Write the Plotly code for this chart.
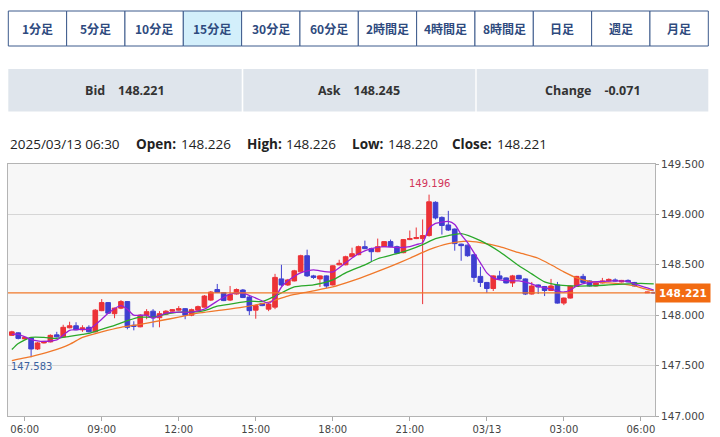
import pandas as pd
import plotly.graph_objects as go

# ---------------- data ----------------
buttons = ["1分足", "5分足", "10分足", "15分足", "30分足", "60分足",
           "2時間足", "4時間足", "8時間足", "日足", "週足", "月足"]
active_button = "15分足"
bid, ask, change = "148.221", "148.245", "-0.071"
last_time = "2025/03/13 06:30"
last_open, last_high, last_low, last_close = "148.226", "148.226", "148.220", "148.221"
current_price = 148.221
high_label, low_label = 149.196, 147.583

opens = [147.800, 147.825, 147.765, 147.775, 147.665, 147.725, 147.735, 147.805, 147.785, 147.875,
         147.895, 147.855, 147.880, 147.835, 148.045, 148.125, 148.015, 148.070, 148.135, 147.900,
         147.885, 148.000, 148.040, 147.975, 148.010, 148.040, 148.050, 148.065, 148.000, 148.050,
         148.080, 148.150, 148.255, 148.225, 148.150, 148.210, 148.250, 148.180, 148.050, 148.115,
         148.060, 148.080, 148.360, 148.300, 148.340, 148.430, 148.590, 148.390, 148.360, 148.390,
         148.300, 148.500, 148.500, 148.580, 148.600, 148.680, 148.660, 148.630, 148.680, 148.730,
         148.680, 148.620, 148.750, 148.760, 148.760, 148.790, 149.120, 148.970, 148.895, 148.855,
         148.705, 148.695, 148.600, 148.385, 148.325, 148.265, 148.390, 148.370, 148.320, 148.395,
         148.360, 148.210, 148.300, 148.285, 148.245, 148.300, 148.120, 148.170, 148.285, 148.385,
         148.340, 148.290, 148.320, 148.340, 148.350, 148.330, 148.345, 148.325, 148.222, 148.226]
highs = [147.845, 147.830, 147.790, 147.780, 147.735, 147.745, 147.810, 147.835, 147.905, 147.935,
         147.930, 147.900, 147.900, 148.060, 148.160, 148.130, 148.075, 148.150, 148.140, 147.940,
         148.010, 148.060, 148.060, 148.040, 148.050, 148.060, 148.090, 148.070, 148.065, 148.095,
         148.200, 148.240, 148.310, 148.230, 148.290, 148.265, 148.260, 148.190, 148.100, 148.120,
         148.120, 148.410, 148.500, 148.360, 148.450, 148.600, 148.650, 148.400, 148.395, 148.395,
         148.495, 148.550, 148.590, 148.670, 148.690, 148.740, 148.670, 148.760, 148.735, 148.750,
         148.690, 148.755, 148.840, 148.870, 148.950, 149.196, 149.130, 148.980, 149.035, 148.860,
         148.710, 148.700, 148.610, 148.480, 148.330, 148.395, 148.440, 148.375, 148.400, 148.400,
         148.365, 148.330, 148.305, 148.290, 148.360, 148.330, 148.175, 148.295, 148.390, 148.410,
         148.345, 148.325, 148.370, 148.365, 148.365, 148.350, 148.355, 148.330, 148.232, 148.226]
lows = [147.795, 147.760, 147.760, 147.583, 147.655, 147.720, 147.730, 147.780, 147.780, 147.870,
        147.850, 147.835, 147.830, 147.830, 148.040, 148.015, 147.970, 148.060, 147.860, 147.850,
        147.880, 147.960, 147.880, 147.880, 148.000, 148.035, 148.045, 147.960, 147.990, 148.045,
        148.075, 148.140, 148.220, 148.140, 148.140, 148.205, 148.170, 148.000, 147.965, 148.090,
        148.040, 148.060, 148.290, 148.290, 148.335, 148.425, 148.380, 148.360, 148.280, 148.270,
        148.295, 148.495, 148.495, 148.575, 148.595, 148.655, 148.530, 148.625, 148.675, 148.675,
        148.610, 148.615, 148.745, 148.755, 148.110, 148.780, 148.950, 148.800, 148.835, 148.640,
        148.540, 148.580, 148.330, 148.280, 148.220, 148.240, 148.350, 148.315, 148.280, 148.355,
        148.200, 148.205, 148.210, 148.190, 148.240, 148.115, 148.100, 148.165, 148.280, 148.320,
        148.285, 148.285, 148.315, 148.335, 148.335, 148.325, 148.325, 148.285, 148.220, 148.220]
closes = [147.835, 147.770, 147.780, 147.665, 147.725, 147.740, 147.800, 147.785, 147.880, 147.895,
          147.855, 147.875, 147.835, 148.050, 148.125, 148.020, 148.070, 148.135, 147.880, 147.890,
          148.000, 148.035, 147.975, 148.015, 148.040, 148.055, 148.065, 148.000, 148.055, 148.085,
          148.190, 148.230, 148.225, 148.145, 148.205, 148.255, 148.175, 148.045, 148.095, 148.095,
          148.110, 148.375, 148.300, 148.350, 148.440, 148.590, 148.390, 148.375, 148.390, 148.290,
          148.490, 148.515, 148.580, 148.610, 148.680, 148.660, 148.630, 148.680, 148.730, 148.680,
          148.615, 148.750, 148.760, 148.770, 148.790, 149.125, 148.965, 148.890, 148.845, 148.710,
          148.690, 148.590, 148.375, 148.325, 148.265, 148.390, 148.360, 148.320, 148.390, 148.360,
          148.210, 148.290, 148.280, 148.245, 148.290, 148.120, 148.170, 148.290, 148.385, 148.325,
          148.290, 148.320, 148.340, 148.355, 148.340, 148.345, 148.330, 148.290, 148.229, 148.221]

times = [t for t in pd.date_range("2025-03-12 05:30", "2025-03-13 06:30", freq="15min")
         if t != pd.Timestamp("2025-03-13 06:00")]

ma_short_t = ["03-12 05:30", "03-12 05:45", "03-12 06:15", "03-12 06:30", "03-12 06:45", "03-12 07:15",
              "03-12 07:45", "03-12 08:15", "03-12 08:30", "03-12 09:00", "03-12 09:15", "03-12 09:45",
              "03-12 10:00", "03-12 10:15", "03-12 10:45", "03-12 11:00", "03-12 11:30", "03-12 12:00",
              "03-12 12:30", "03-12 13:00", "03-12 13:30", "03-12 14:00", "03-12 14:30", "03-12 15:00",
              "03-12 15:30", "03-12 15:45", "03-12 16:00", "03-12 16:15", "03-12 16:45", "03-12 17:15",
              "03-12 17:30", "03-12 18:00", "03-12 18:30", "03-12 19:00", "03-12 19:30", "03-12 20:00",
              "03-12 20:30", "03-12 21:00", "03-12 21:15", "03-12 21:30", "03-12 21:45", "03-12 22:00",
              "03-12 22:30", "03-12 22:45", "03-12 23:00", "03-12 23:15", "03-12 23:30", "03-12 23:45",
              "03-13 00:00", "03-13 00:15", "03-13 00:30", "03-13 01:00", "03-13 01:15", "03-13 01:45",
              "03-13 02:00", "03-13 02:30", "03-13 02:45", "03-13 03:00", "03-13 03:15", "03-13 03:30",
              "03-13 04:00", "03-13 04:30", "03-13 05:00", "03-13 05:30", "03-13 05:45", "03-13 06:15",
              "03-13 06:30"]
ma_short_v = [147.81, 147.81, 147.76, 147.745, 147.74, 147.755,
              147.85, 147.86, 147.86, 147.96, 148.02, 148.095,
              148.06, 148.00, 148.00, 147.97, 148.02, 148.03,
              148.03, 148.06, 148.14, 148.21, 148.22, 148.17,
              148.12, 148.17, 148.28, 148.34, 148.42, 148.45,
              148.44, 148.43, 148.52, 148.61, 148.66, 148.68,
              148.67, 148.68, 148.70, 148.72, 148.86, 148.91,
              148.93, 148.90, 148.80, 148.72, 148.62, 148.52,
              148.42, 148.37, 148.35, 148.34, 148.34, 148.31,
              148.285, 148.26, 148.24, 148.23, 148.25, 148.29,
              148.325, 148.335, 148.34, 148.335, 148.31, 148.27,
              148.25]

ma_mid_t = ["03-12 05:30", "03-12 05:45", "03-12 06:15", "03-12 06:45", "03-12 07:15", "03-12 07:45",
            "03-12 08:15", "03-12 08:30", "03-12 09:00", "03-12 09:30", "03-12 10:00", "03-12 10:30",
            "03-12 11:00", "03-12 11:30", "03-12 12:00", "03-12 12:30", "03-12 13:00", "03-12 13:30",
            "03-12 14:00", "03-12 14:45", "03-12 15:15", "03-12 15:45", "03-12 16:30", "03-12 17:15",
            "03-12 18:00", "03-12 18:30", "03-12 19:15", "03-12 19:45", "03-12 20:30", "03-12 21:00",
            "03-12 21:30", "03-12 22:00", "03-12 22:30", "03-12 23:00", "03-12 23:45", "03-13 00:30",
            "03-13 01:15", "03-13 01:45", "03-13 02:15", "03-13 02:45", "03-13 03:15", "03-13 04:00",
            "03-13 04:45", "03-13 05:30", "03-13 06:00", "03-13 06:30"]
ma_mid_v = [147.66, 147.72, 147.78, 147.78, 147.77, 147.79,
            147.81, 147.82, 147.86, 147.90, 147.945, 147.98,
            147.98, 148.01, 148.03, 148.03, 148.045, 148.09,
            148.11, 148.14, 148.135, 148.19, 148.28, 148.30,
            148.35, 148.42, 148.50, 148.56, 148.61, 148.65,
            148.70, 148.76, 148.79, 148.81, 148.74, 148.63,
            148.49, 148.41, 148.33, 148.30, 148.29, 148.29,
            148.30, 148.31, 148.315, 148.31]

ma_long_t = ["03-12 05:30", "03-12 05:45", "03-12 06:15", "03-12 07:00", "03-12 07:45", "03-12 08:15",
             "03-12 09:00", "03-12 09:45", "03-12 10:30", "03-12 11:15", "03-12 12:00", "03-12 12:45",
             "03-12 13:30", "03-12 14:30", "03-12 15:30", "03-12 16:15", "03-12 17:00", "03-12 18:00",
             "03-12 18:45", "03-12 19:30", "03-12 20:15", "03-12 21:00", "03-12 21:45", "03-12 22:30",
             "03-12 23:15", "03-12 23:45", "03-13 00:30", "03-13 01:15", "03-13 02:00", "03-13 02:30",
             "03-13 03:00", "03-13 03:30", "03-13 04:00", "03-13 04:45", "03-13 05:15", "03-13 05:45",
             "03-13 06:15", "03-13 06:30"]
ma_long_v = [147.55, 147.565, 147.59, 147.64, 147.71, 147.78,
             147.835, 147.88, 147.91, 147.945, 147.98, 148.02,
             148.045, 148.08, 148.13, 148.19, 148.23, 148.28,
             148.34, 148.41, 148.485, 148.565, 148.65, 148.71,
             148.735, 148.72, 148.68, 148.62, 148.565, 148.50,
             148.43, 148.37, 148.335, 148.32, 148.31, 148.29,
             148.255, 148.245]

x_ticks = ["2025-03-12 06:00", "2025-03-12 09:00", "2025-03-12 12:00", "2025-03-12 15:00",
           "2025-03-12 18:00", "2025-03-12 21:00", "2025-03-13 00:00", "2025-03-13 03:00",
           "2025-03-13 06:00"]
x_tick_text = ["06:00", "09:00", "12:00", "15:00", "18:00", "21:00", "03/13", "03:00", "06:00"]
y_ticks = [147.0, 147.5, 148.0, 148.5, 149.0, 149.5]

# ---------------- styling ----------------
W, H = 720, 437
PL, PR, PT, PB = 8, 655, 164, 416
RED, BLUE = "#ec3237", "#3f3fd0"
PURPLE, GREEN, ORANGE = "#9b1fd6", "#2aa82a", "#f0782a"
NAVY = "#2e4a7e"
AXIS_FONT = "DejaVu Sans"


def px(x):
    return (x - PL) / (PR - PL)


def py(y):
    return (PB - y) / (PB - PT)


def full(ts):
    return ["2025-" + t for t in ts]


fig = go.Figure()
fig.add_trace(go.Candlestick(
    x=times, open=opens, high=highs, low=lows, close=closes,
    increasing=dict(line=dict(color=RED, width=1), fillcolor=RED),
    decreasing=dict(line=dict(color=BLUE, width=1), fillcolor=BLUE),
    whiskerwidth=0, showlegend=False, hoverinfo="skip"))
for ts, vs, col in [(ma_long_t, ma_long_v, ORANGE), (ma_mid_t, ma_mid_v, GREEN),
                    (ma_short_t, ma_short_v, PURPLE)]:
    fig.add_trace(go.Scatter(x=full(ts), y=vs, mode="lines",
                             line=dict(color=col, width=1.3, shape="spline", smoothing=0.6),
                             showlegend=False, hoverinfo="skip"))

shapes = []
annotations = []

# current price line
shapes.append(dict(type="line", xref="paper", yref="y", x0=0, x1=1,
                   y0=current_price, y1=current_price, line=dict(color=ORANGE, width=1.2)))
annotations.append(dict(xref="paper", yref="y", x=1.0, y=current_price, xanchor="left",
                        yanchor="middle", text="<b>%.3f</b>" % current_price, showarrow=False,
                        font=dict(family=AXIS_FONT, size=10.5, color="white"),
                        bgcolor="#f26b12", borderpad=3, xshift=0))

# high / low labels
annotations.append(dict(xref="x", yref="y", x="2025-03-12 21:45", y=high_label,
                        text="%.3f" % high_label, showarrow=False, yanchor="bottom",
                        yshift=4, font=dict(family=AXIS_FONT, size=10, color="#d2355a")))
annotations.append(dict(xref="x", yref="y", x="2025-03-12 06:15", y=low_label,
                        text="%.3f" % low_label, showarrow=False, yanchor="top",
                        yshift=-2, font=dict(family=AXIS_FONT, size=10, color="#3b62a0")))

# timeframe buttons
bx0, bx1, by0, by1 = 8.3, 708.3, 11, 46
bw = (bx1 - bx0) / len(buttons)
for i, b in enumerate(buttons):
    x0 = bx0 + i * bw
    x1 = x0 + bw
    shapes.append(dict(type="rect", xref="paper", yref="paper", x0=px(x0), x1=px(x1),
                       y0=py(by1), y1=py(by0), line=dict(color="#3d5a8c", width=1),
                       fillcolor="#d3effb" if b == active_button else "white", layer="below"))
    annotations.append(dict(xref="paper", yref="paper", x=px((x0 + x1) / 2), y=py((by0 + by1) / 2),
                            text="<b>%s</b>" % b, showarrow=False, xanchor="center", yanchor="middle",
                            font=dict(family="Noto Sans CJK JP", size=12, color=NAVY)))

# bid / ask / change boxes
boxes = [(8.3, 241.7, "Bid", bid), (243.3, 475.3, "Ask", ask), (476.7, 708.3, "Change", change)]
for x0, x1, lab, val in boxes:
    shapes.append(dict(type="rect", xref="paper", yref="paper", x0=px(x0), x1=px(x1),
                       y0=py(111.5), y1=py(69), line=dict(width=0), fillcolor="#dfe5ec",
                       layer="below"))
    annotations.append(dict(xref="paper", yref="paper", x=px((x0 + x1) / 2), y=py(90.5),
                            text="<b>%s&nbsp;&nbsp;&nbsp;&nbsp;%s</b>" % (lab, val), showarrow=False,
                            xanchor="center", yanchor="middle",
                            font=dict(family="Open Sans", size=12.5, color="#333333")))

# OHLC header
hdr = [(8, last_time, False), (134, "Open:", True), (179, last_open, False),
       (245, "High:", True), (284, last_high, False), (350, "Low:", True),
       (386, last_low, False), (450, "Close:", True), (495, last_close, False)]
for x, txt, bold in hdr:
    annotations.append(dict(xref="paper", yref="paper", x=px(x), y=py(144),
                            text="<b>%s</b>" % txt if bold else txt, showarrow=False,
                            xanchor="left", yanchor="middle",
                            font=dict(family="Open Sans", size=13.5, color="#222222")))

fig.update_layout(
    width=W, height=H,
    margin=dict(l=PL, r=W - PR, t=PT, b=H - PB, autoexpand=False),
    paper_bgcolor="white", plot_bgcolor="#f7f7f7",
    boxgap=0.15, boxgroupgap=0.15,
    shapes=shapes, annotations=annotations,
    xaxis=dict(type="date", range=["2025-03-12 05:21", "2025-03-13 06:33"],
               rangeslider=dict(visible=False), showgrid=False, automargin=False,
               tickvals=x_ticks, ticktext=x_tick_text, ticks="outside", ticklen=4,
               tickcolor="#aaaaaa", tickfont=dict(family=AXIS_FONT, size=10, color="#444444"),
               showline=True, linecolor="#b4b4b4", mirror=True, zeroline=False),
    yaxis=dict(side="right", range=[147.0, 149.5], tickvals=y_ticks, tickformat=".3f",
               showgrid=True, gridcolor="#d6d6d6", ticks="outside", ticklen=3, tickcolor="#aaaaaa",
               automargin=False,
               tickfont=dict(family=AXIS_FONT, size=10.5, color="#444444"),
               showline=True, linecolor="#b4b4b4", mirror=True, zeroline=False),
)

fig.write_html("out.html", config={"displayModeBar": False},
               post_script="document.body.style.margin='0';document.body.style.padding='0';")
